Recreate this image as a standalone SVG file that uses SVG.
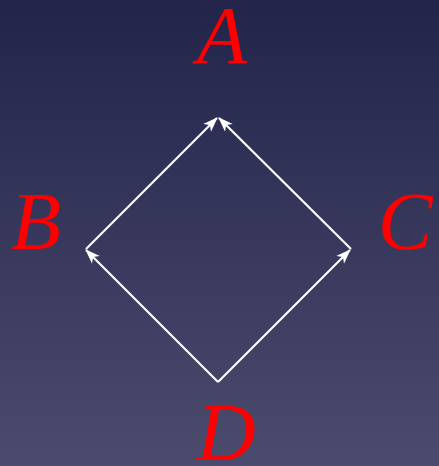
<svg xmlns="http://www.w3.org/2000/svg" width="439" height="466" viewBox="0 0 439 466">
<defs>
<linearGradient id="bg" x1="0" y1="0" x2="0" y2="1">
<stop offset="0" stop-color="#22244a"/>
<stop offset="1" stop-color="#4b4b6d"/>
</linearGradient>
<marker id="ah" viewBox="0 0 15 12" refX="14" refY="6" markerWidth="15" markerHeight="12" markerUnits="userSpaceOnUse" orient="auto">
<path d="M0,0.5 L15,6 L0,11.5 L4,6 z" fill="#ffffff"/>
</marker>
<style>
.lbl{font-family:"Liberation Serif","DejaVu Serif",serif;font-style:italic;font-size:82px;fill:#ff0000;text-anchor:middle}
.edge{stroke:#ffffff;stroke-width:2.2;fill:none;marker-end:url(#ah)}
</style>
</defs>
<rect width="439" height="466" fill="url(#bg)"/>
<g id="connectors">
<line class="edge" x1="218" y1="382" x2="86" y2="250"/>
<line class="edge" x1="218" y1="382" x2="350" y2="250"/>
<line class="edge" x1="86" y1="249" x2="217" y2="118"/>
<line class="edge" x1="351" y1="249" x2="219" y2="118"/>
</g>
<g id="A"><text class="lbl" x="222" y="63">A</text></g>
<g id="B"><text class="lbl" x="36" y="249">B</text></g>
<g id="C"><text class="lbl" x="405" y="249">C</text></g>
<g id="D"><text class="lbl" x="226" y="460">D</text></g>
</svg>
